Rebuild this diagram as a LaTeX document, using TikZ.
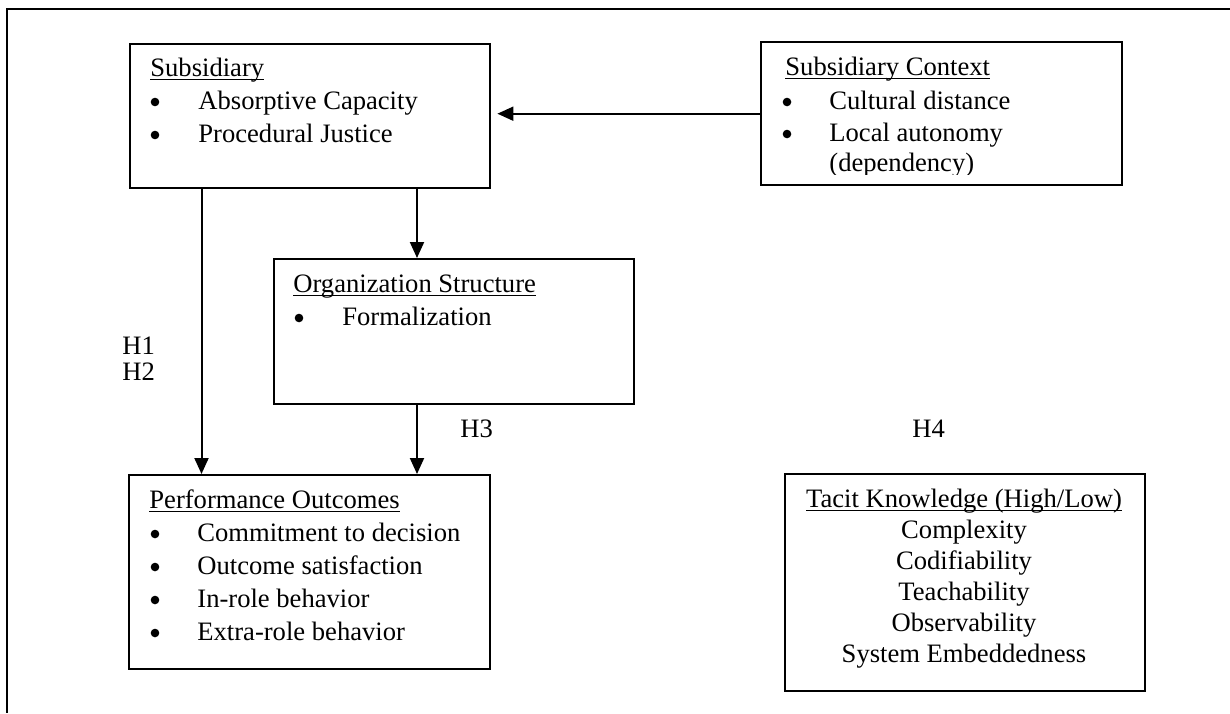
\documentclass[tikz,border=0pt]{standalone}
\usepackage{fontspec}
\setmainfont{Liberation Serif}
\usetikzlibrary{arrows.meta,calc}

\newcommand*{\uln}[1]{\setbox0\hbox{#1}\rlap{\rule[-2.2pt]{\wd0}{0.6pt}}\box0}

\begin{document}
\begin{tikzpicture}
[
	x=0.5pt, y=-0.5pt,
	every node/.style={font=\fontsize{13.3pt}{16pt}\selectfont},
	boxed/.style={draw,line width=1.2pt,inner sep=0pt,anchor=north west},
	txt/.style={inner sep=0pt,anchor=base west},
	dot/.style={circle,fill,inner sep=0pt,minimum size=4.3pt},
	link/.style={-{Triangle[length=8pt,width=7pt]},line width=1pt},
]
	\useasboundingbox (0,0) rectangle (1230,713);

	% frame
	\draw[line width=1.1pt] (1230,9) -- (7,9) -- (7,713);

	% boxes
	\node[boxed,minimum width=180pt,minimum height=72pt] (sub) at (129,43) {};
	\node[boxed,minimum width=180.5pt,minimum height=71.5pt] (ctx) at (760,41) {};
	\node[boxed,minimum width=180pt,minimum height=72.5pt] (org) at (273,258) {};
	\node[boxed,minimum width=180.5pt,minimum height=97pt] (perf) at (128,474) {};
	\node[boxed,minimum width=180pt,minimum height=108.5pt] (tacit) at (784,473) {};

	% subsidiary
	\node[txt] (sub-h) at (150,76) {\uln{Subsidiary}};
	\foreach \entry [count=\i] in {Absorptive Capacity,Procedural Justice} {
		\node[dot] (sub-b\i) at (155,{69+33*\i}) {};
		\node[txt] (sub-t\i) at (198,{76+33*\i}) {\entry};
	}

	% context
	\node[txt] (ctx-h) at (785,75) {\uln{Subsidiary Context}};
	\node[dot] (ctx-b1) at (787,102) {};
	\node[txt] (ctx-t1) at (829,109) {Cultural distance};
	\node[dot] (ctx-b2) at (787,134) {};
	\node[txt] (ctx-t2) at (829,141) {Local autonomy};
	\begin{scope}
		\clip (760,41) rectangle (1121,174);
		\node[txt] (ctx-t3) at (829,171) {(dependency)};
	\end{scope}

	% structure
	\node[dot] (org-b1) at (299,318) {};
	\node[txt] (org-h) at (293,292) {\uln{Organization Structure}};
	\node[txt] (org-t1) at (342,325) {Formalization};

	% outcomes
	\node[txt] (perf-h) at (149,508) {\uln{Performance Outcomes}};
	\foreach \entry [count=\i] in {Commitment to decision,Outcome satisfaction,In-role behavior,Extra-role behavior} {
		\node[dot] (perf-b\i) at (155,{501+33*\i}) {};
		\node[txt] (perf-t\i) at (197,{508+33*\i}) {\entry};
	}

	% tacit knowledge
	\node[txt,anchor=base] (tacit-h) at (964,507) {\uln{Tacit Knowledge (High/Low)}};
	\foreach \entry [count=\i] in {Complexity,Codifiability,Teachability,Observability,System Embeddedness} {
		\node[txt,anchor=base] (tacit-t\i) at (964,{507+31*\i}) {\entry};
	}

	% hypotheses
	\node[txt] (h1) at (122,354) {H1};
	\node[txt] (h2) at (122,380) {H2};
	\node[txt] (h3) at (460,437) {H3};
	\node[txt] (h4) at (912,437) {H4};

	% arrows
	\coordinate (subA) at ($(sub.south west)+(72.5,0)$);
	\coordinate (subB) at ($(sub.south west)+(288,0)$);
	\draw[link,shorten >=3pt] (ctx.west) -- (ctx.west -| sub.east);
	\draw[link] (subA) -- (subA |- perf.north);
	\draw[link] (subB) -- (subB |- org.north);
	\draw[link] (subB |- org.south) -- (subB |- perf.north);

\end{tikzpicture}
\end{document}
